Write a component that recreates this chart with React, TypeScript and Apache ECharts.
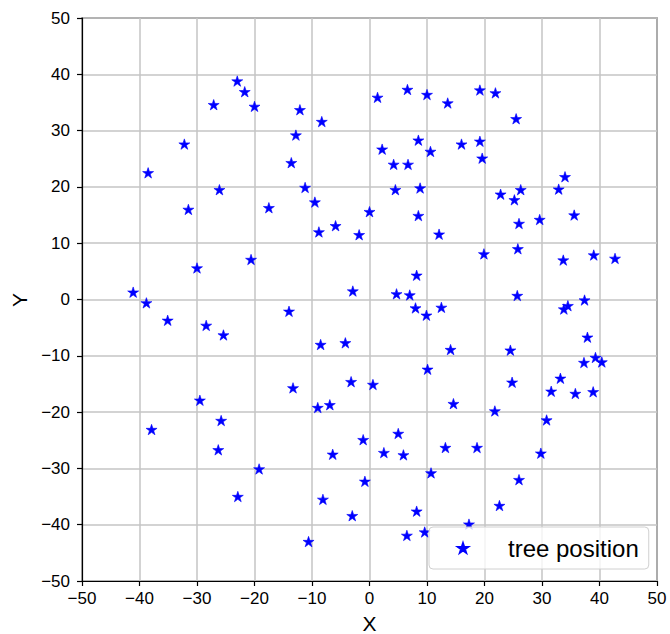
import React, { useEffect, useRef } from "react";
import * as echarts from "echarts";

const seriesName = "tree position";
const xAxisTitle = "X";
const yAxisTitle = "Y";
const axisMin = -50;
const axisMax = 50;
const axisStep = 10;

const treeX: number[] = [
  -23.0, -21.7, -20.0, -27.1, -12.1, -8.3, -32.2, -12.8, -38.5, -13.6,
  -26.1, -11.2, -9.5, -31.5, -17.5, 0.0, -8.8, -5.9, -1.8, -20.6,
  -30.0, -41.1, -38.8, -2.9, -14.0, -35.1, -28.4, -25.4, -8.5, -4.2,
  -3.2, -13.3, -29.5, -9.0, -6.9, -25.8, -37.9, -1.1, -26.3, -6.4,
  -19.2, -0.8, -22.9, -8.1, -3.0, -10.6, 0.6, 1.4, 6.6, 10.0,
  13.6, 19.2, 21.9, 25.5, 2.2, 8.5, 10.6, 16.0, 19.2, 19.6,
  4.2, 6.7, 34.0, 4.5, 8.8, 22.8, 26.3, 25.2, 32.9, 8.5,
  26.0, 29.6, 35.6, 12.1, 19.9, 25.8, 33.7, 39.0, 42.7, 8.2,
  4.7, 7.0, 8.0, 12.5, 25.7, 33.8, 34.5, 37.4, 9.9, 37.9,
  14.1, 24.5, 37.3, 39.3, 40.4, 10.1, 24.8, 33.2, 31.6, 35.8,
  38.9, 14.6, 21.8, 30.8, 5.0, 2.5, 5.9, 13.2, 18.7, 29.8,
  10.7, 26.0, 22.6, 8.2, 6.5, 9.6, 17.3,
];

const treeY: number[] = [
  38.8, 36.9, 34.3, 34.6, 33.7, 31.6, 27.6, 29.2, 22.5, 24.3,
  19.5, 19.9, 17.3, 16.0, 16.3, 15.6, 12.0, 13.1, 11.5, 7.1,
  5.6, 1.3, -0.6, 1.5, -2.1, -3.7, -4.6, -6.3, -8.0, -7.7,
  -14.6, -15.7, -17.9, -19.2, -18.7, -21.5, -23.1, -24.9, -26.7, -27.5,
  -30.1, -32.3, -35.0, -35.5, -38.4, -43.0, -15.1, 35.9, 37.3, 36.4,
  34.9, 37.2, 36.7, 32.1, 26.7, 28.3, 26.3, 27.6, 28.1, 25.1,
  24.0, 24.0, 21.8, 19.5, 19.8, 18.7, 19.5, 17.7, 19.6, 14.9,
  13.5, 14.2, 15.0, 11.6, 8.1, 9.0, 7.0, 7.9, 7.3, 4.3,
  1.0, 0.8, -1.5, -1.4, 0.7, -1.7, -1.1, -0.1, -2.8, -6.7,
  -8.9, -9.0, -11.2, -10.3, -11.1, -12.4, -14.7, -14.0, -16.3, -16.7,
  -16.4, -18.5, -19.8, -21.4, -23.8, -27.2, -27.6, -26.3, -26.3, -27.3,
  -30.8, -32.0, -36.6, -37.6, -41.9, -41.3, -39.9,
];

const STAR =
  "path://M50 0 L61.23 34.55 L97.55 34.55 L68.17 55.9 L79.39 90.45 L50 69.1 L20.61 90.45 L31.83 55.9 L2.45 34.55 L38.77 34.55 Z";

const FONT = "'Liberation Sans', Arial, sans-serif";

const fmt = (v: number) => (v < 0 ? "\u2212" + Math.abs(v) : String(v));

export default function App() {
  const ref = useRef<HTMLDivElement>(null);

  useEffect(() => {
    if (!ref.current) return;
    const chart = echarts.init(ref.current, undefined, { renderer: "svg" });
    const data = treeX.map((x, i) => [x, treeY[i]]);
    const axisCommon = {
      type: "value" as const,
      min: axisMin,
      max: axisMax,
      interval: axisStep,
      axisLine: { show: true, onZero: false, lineStyle: { color: "#000", width: 1.2 } },
      axisTick: { show: true, inside: false, length: 5, lineStyle: { color: "#000", width: 1.2 } },
      splitLine: { show: true, lineStyle: { color: "#c4c4c4", width: 1.5 } },
      nameTextStyle: { fontFamily: FONT, fontSize: 21, color: "#000" },
    };
    chart.setOption({
      animation: false,
      backgroundColor: "#fff",
      grid: {
        left: 82,
        top: 18,
        width: 575,
        height: 563,
        show: true,
        borderColor: "#000",
        borderWidth: 1.2,
        backgroundColor: "transparent",
        containLabel: false,
        outerBoundsMode: "none",
      },
      graphic: [
        {
          type: "text",
          x: 19,
          y: 300,
          rotation: Math.PI / 2,
          style: {
            text: yAxisTitle,
            fontFamily: FONT,
            fontSize: 21,
            fill: "#000",
            align: "center",
            verticalAlign: "middle",
          },
        },
      ],
      xAxis: {
        ...axisCommon,
        name: xAxisTitle,
        nameLocation: "middle",
        nameGap: 32,
        axisLabel: {
          margin: 9,
          fontFamily: FONT,
          fontSize: 17,
          color: "#000",
          formatter: fmt,
        },
      },
      yAxis: {
        ...axisCommon,
        axisLabel: {
          margin: 12,
          fontFamily: FONT,
          fontSize: 17,
          color: "#000",
          formatter: fmt,
        },
      },
      legend: {
        show: true,
        left: 429,
        top: 527,
        orient: "vertical",
        padding: [9, 10, 9, 28],
        itemWidth: 10,
        itemHeight: 10,
        icon: STAR,
        borderColor: "#d0d0d0",
        borderWidth: 1,
        borderRadius: 4,
        backgroundColor: "rgba(255,255,255,0.8)",
        textStyle: {
          fontFamily: FONT,
          fontSize: 24,
          color: "#000",
          padding: [0, 0, 0, 35],
        },
        data: [seriesName],
      },
      series: [
        {
          name: seriesName,
          type: "scatter",
          symbol: STAR,
          symbolSize: 11,
          symbolKeepAspect: true,
          itemStyle: { color: "#0000ff", borderColor: "#0000ff", borderWidth: 0.6, opacity: 1 },
          data,
        },
      ],
    });
    return () => chart.dispose();
  }, []);

  return (
    <div
      ref={ref}
      style={{ position: "fixed", left: 0, top: 0, width: 670, height: 634, background: "#fff" }}
    />
  );
}
